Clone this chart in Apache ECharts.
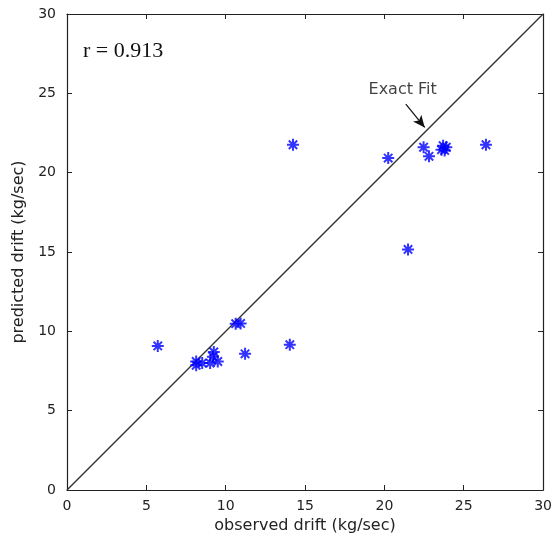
<!DOCTYPE html>
<html><head><meta charset="utf-8">
<script src="https://cdn.jsdelivr.net/npm/echarts@6/dist/echarts.min.js"></script>
<style>html,body{margin:0;padding:0;background:#fff}#c{width:555px;height:539px}</style>
</head><body><div id="c"></div>
<script>
const observed = [14.24, 20.24, 22.47, 22.81, 23.7, 23.9, 23.6, 23.8, 26.4, 21.49, 14.04, 5.72, 11.22, 10.63, 10.94, 9.25, 8.14, 8.14, 8.52, 9.02, 9.5, 9.2];
const predicted = [21.76, 20.92, 21.6, 21.03, 21.7, 21.6, 21.45, 21.4, 21.76, 15.16, 9.16, 9.08, 8.58, 10.48, 10.5, 8.7, 8.1, 7.86, 8.0, 8.0, 8.1, 8.4];
const fitLine = [[0, 0], [30, 30]];
const ticks = [0, 5, 10, 15, 20, 25, 30];
const rText = 'r = 0.913';
const fitLabel = 'Exact Fit';

const chart = echarts.init(document.getElementById('c'), null, {renderer: 'canvas'});
const star = 'path://M10,0 L10,20 M0,10 L20,10 M3,3 L17,17 M17,3 L3,17';
function ax(extra) {
  return Object.assign({
    type: 'value',
    min: ticks[0], max: ticks[ticks.length - 1], interval: 5,
    axisLine: {show: true, onZero: false, lineStyle: {color: '#222', width: 1.2}},
    axisTick: {show: true, inside: true, length: 5, lineStyle: {color: '#222', width: 1}},
    splitLine: {show: false}
  }, extra);
}
const font = '"DejaVu Sans", Verdana, sans-serif';
const lbl = {color: '#222', fontFamily: font, fontSize: 14};
const nm = {color: '#222', fontFamily: font, fontSize: 16};
chart.setOption({
  backgroundColor: '#fff',
  animation: false,
  grid: {left: 67, right: 9, top: 14, bottom: 47},
  xAxis: [
    ax({position: 'bottom', name: 'observed drift (kg/sec)', nameLocation: 'middle', nameGap: 28,
      nameTextStyle: nm, axisLabel: Object.assign({margin: 9}, lbl)}),
    ax({position: 'top', axisLabel: {show: false}})
  ],
  yAxis: [
    ax({position: 'left', name: 'predicted drift (kg/sec)', nameLocation: 'middle', nameGap: 31,
      nameTextStyle: nm, axisLabel: Object.assign({margin: 11}, lbl)}),
    ax({position: 'right', axisLabel: {show: false}})
  ],
  graphic: [
    {type: 'text', left: 83, top: 40, style: {text: rText, fill: '#111', fontSize: 22, fontFamily: '"Liberation Serif", "Times New Roman", serif'}}
  ],
  series: [
    {type: 'line', data: fitLine, showSymbol: false, symbol: 'none',
      lineStyle: {color: '#333', width: 1.4}, z: 2,
      markLine: {
        silent: true, symbol: ['none', 'arrow'], symbolSize: [8, 12],
        lineStyle: {color: '#111', width: 1.2, type: 'solid'},
        label: {show: false},
        data: [[{coord: [21.35, 24.32]}, {coord: [22.54, 22.85]}]]
      }
    },
    {type: 'scatter', data: [[19.0, 25.25]], symbolSize: 0, silent: true,
      label: {show: true, formatter: fitLabel, position: 'right', distance: 0,
        color: '#111', fontFamily: font, fontSize: 16}},
    {type: 'scatter', data: observed.map((x, i) => [x, predicted[i]]),
      symbol: star, symbolSize: 12,
      itemStyle: {color: 'none', borderColor: '#0000ff', borderWidth: 2}, z: 3}
  ]
});
</script></body></html>
